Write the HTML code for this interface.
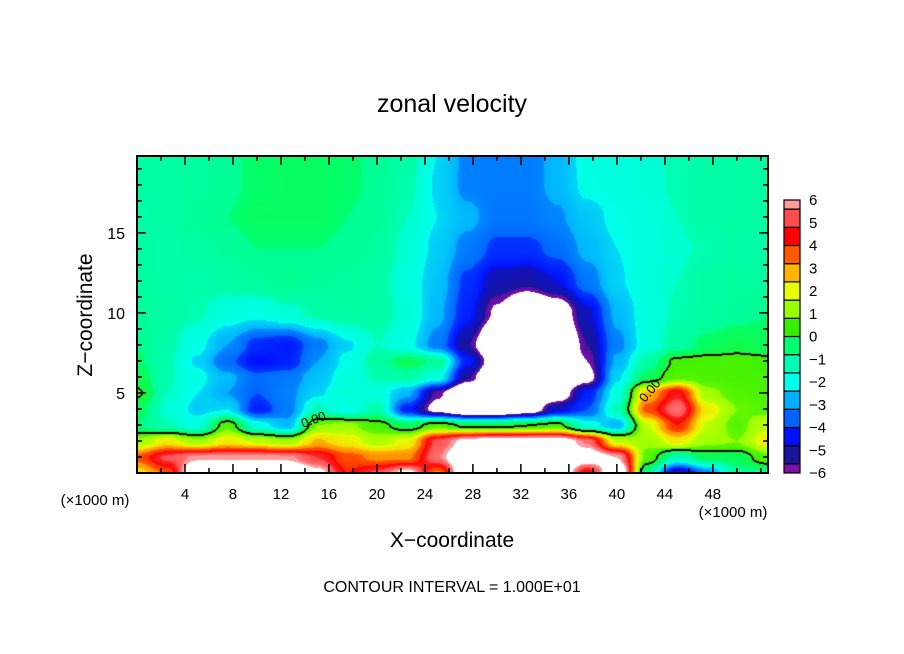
<!DOCTYPE html>
<html><head><meta charset="utf-8"><style>
html,body{margin:0;padding:0;background:#fff;}
#wrap{position:relative;width:904px;height:654px;overflow:hidden;font-family:"Liberation Sans",sans-serif;}
canvas{position:absolute;left:137px;top:156px;}
svg{position:absolute;left:0;top:0;}
</style></head><body>
<div id="wrap">
<canvas id="field" width="631" height="317"></canvas>
<svg id="svg" width="904" height="654"></svg>
</div>
<script>
// ---- data ----
const xCoords = [0,2.5,5,7.5,10,12.5,15,17.5,20,22.5,25,27.5,30,32.5,35,37.5,40,42.5,45,47.5,50,52.5];
const zCoords = [20,18,16,14,12,10,8,7,6,5,4,3,2,1,0];
const row20 = [-1.2,-1.2,-1.1,-0.9,-0.7,-0.6,-0.6,-0.7,-0.9,-1.3,-2.4,-3.4,-3.5,-3.5,-3.0,-2.1,-2.0,-1.8,-1.5,-1.3,-1.2,-1.2];
const row18 = [-1.2,-1.2,-1.1,-0.9,-0.7,-0.6,-0.6,-0.7,-0.9,-1.4,-2.5,-3.4,-3.5,-3.5,-3.0,-2.2,-2.0,-1.8,-1.5,-1.3,-1.2,-1.2];
const row16 = [-1.3,-1.2,-1.0,-0.8,-0.6,-0.6,-0.6,-0.8,-1.0,-1.6,-2.4,-3.0,-3.6,-3.6,-3.3,-2.7,-2.2,-2.0,-1.6,-1.3,-1.2,-1.2];
const row14 = [-1.2,-1.3,-1.2,-1.0,-0.8,-0.8,-0.8,-0.9,-1.1,-1.8,-2.6,-3.5,-4.2,-4.2,-3.8,-3.0,-2.4,-2.0,-1.7,-1.5,-1.3,-1.3];
const row12 = [-1.1,-1.3,-1.4,-1.3,-1.1,-0.8,-1.0,-1.1,-1.3,-2.0,-2.8,-4.2,-5.2,-5.4,-4.8,-3.6,-2.5,-1.9,-1.6,-1.2,-1.1,-1.1];
const row10 = [-1.0,-1.2,-1.5,-2.0,-2.2,-1.8,-1.4,-1.2,-1.3,-1.8,-3.0,-4.5,-6.2,-8,-7,-5.0,-3.0,-2.0,-1.5,-1.2,-1.0,-0.8];
const row8 = [-0.8,-1.4,-2.2,-3.2,-4.3,-4.6,-3.5,-2.5,-1.6,-2.2,-3.5,-5.5,-8,-8,-8,-5.6,-3.4,-2.0,-1.2,-0.6,-0.3,-0.5];
const row7 = [-0.7,-1.5,-2.5,-3.8,-4.8,-4.5,-3.2,-2.2,-1.2,-0.4,-1.0,-4.5,-7,-8,-8,-6,-3.0,-1.2,0.2,0.3,0.3,0.2];
const row6 = [-0.3,-1.5,-2.2,-3.0,-3.8,-3.6,-2.8,-2.0,-1.5,-1.3,-2.0,-5.5,-8,-8,-8,-6.5,-2.5,-0.5,0.5,0.4,0.3,0.3];
const row5 = [0.1,-1.6,-2.4,-3.2,-4.0,-3.4,-2.5,-1.8,-2.0,-3.0,-5.8,-8,-8,-8,-7,-4.5,-2.0,2.5,4.5,1.0,0.5,0.4];
const row4 = [-0.5,-1.8,-2.6,-2.4,-4.5,-3.5,-1.5,-2.2,-1.3,-4.5,-6.5,-8,-8,-7,-5,-4.0,-1.5,3.5,5.5,2.0,0.8,0.5];
const row3 = [-0.8,-1.5,-2.0,0.5,-2.0,-3.0,0.8,1.0,0.3,-0.5,0.5,-0.2,-0.2,0.0,0.3,-2.0,-3.0,1.5,4.0,1.5,0.5,1.5];
const row2 = [1.0,2.0,1.0,2.0,1.5,1.0,2.5,2.0,1.2,1.8,5.0,6.5,7,7,7,5.5,1.5,1.0,2.0,1.0,0.8,2.0];
const row1 = [3.5,5.0,5.8,5.8,5.8,5.8,4.8,3.5,3.0,3.0,5.5,8,8,8,8,7,6.0,0.5,-1.5,-0.5,-0.5,0.5];
const row0 = [2.0,3.5,8,8,8,8,6.5,4.0,5.0,6.5,3.0,8,8,7,8,4.0,8,-1.0,-5.5,-3.5,-1.0,-1.0];
const xTicks = [4,8,12,16,20,24,28,32,36,40,44,48];
const zTicks = [5,10,15];
const cbLevels = [-6,-5.6,-4.8,-4.0,-3.2,-2.4,-1.6,-0.8,0,0.8,1.6,2.4,3.2,4.0,4.8,5.6,6];
const cbColors = ["#7a10a8","#1a1498","#0010ff","#0064ff","#00b0ff","#00ffec","#00ffb4","#00ff70","#34f000","#98ff00","#e8ff00","#ffb400","#ff5a00","#ff0000","#ff4c4c","#ff9a9a"];
const cbLabels = [6,5,4,3,2,1,0,-1,-2,-3,-4,-5,-6];
const rows = [row20,row18,row16,row14,row12,row10,row8,row7,row6,row5,row4,row3,row2,row1,row0];

// ---- axes ----
const X0=137,X1=768,Y0=473,Y1=156,XMAX=52.6,ZMAX=19.8;
const sx = x => X0 + x/XMAX*(X1-X0);
const sz = z => Y0 - z/ZMAX*(Y0-Y1);

function hex(c){return [parseInt(c.substr(1,2),16),parseInt(c.substr(3,2),16),parseInt(c.substr(5,2),16)];}
const stopRGB = cbColors.map(hex);
function colorOf(v){
  if (v>6||v<-6) return [255,255,255];
  let i=0; while(i<cbLevels.length-2 && v>cbLevels[i+1]) i++;
  const t=(v-cbLevels[i])/(cbLevels[i+1]-cbLevels[i]);
  const a=stopRGB[i], b=stopRGB[Math.min(i+1,stopRGB.length-1)];
  const f=0.5*t;
  return [a[0]+(b[0]-a[0])*f,a[1]+(b[1]-a[1])*f,a[2]+(b[2]-a[2])*f];
}
function seg(arr,v){let i=0;while(i<arr.length-2&&v>arr[i+1])i++;return i;}
function valueAt(x,z){
  const i=seg(xCoords,x); const tx=Math.max(0,Math.min(1,(x-xCoords[i])/(xCoords[i+1]-xCoords[i])));
  let j=0; while(j<zCoords.length-2 && z<zCoords[j+1]) j++;
  const tz=Math.max(0,Math.min(1,(zCoords[j]-z)/(zCoords[j]-zCoords[j+1])));
  const sm=t=>t*t*(3-2*t);
  const a=rows[j][i],b=rows[j][i+1],c=rows[j+1][i],d=rows[j+1][i+1];
  const u=sm(tx),w=sm(tz);
  return (a*(1-u)+b*u)*(1-w)+(c*(1-u)+d*u)*w;
}
const cv=document.getElementById('field'),ctx=cv.getContext('2d');
const W=cv.width,H=cv.height,img=ctx.createImageData(W,H);
const vals=new Float32Array(W*H);
for(let py=0;py<H;py++)for(let px=0;px<W;px++){
  const x=px/(X1-X0)*XMAX, z=(Y0-Y1-py)/(Y0-Y1)*ZMAX;
  vals[py*W+px]=valueAt(x,z);
}
for(let py=0;py<H;py++)for(let px=0;px<W;px++){
  const v=vals[py*W+px]; let c=colorOf(v);
  const s=v>=0;
  const r=px<W-1?vals[py*W+px+1]:v, d=py<H-1?vals[(py+1)*W+px]:v;
  const l=px>0?vals[py*W+px-1]:v, u=py>0?vals[(py-1)*W+px]:v;
  if(s!==(r>=0)||s!==(d>=0)||s!==(l>=0)||s!==(u>=0)) c=[0,0,0];
  const k=(py*W+px)*4; img.data[k]=c[0];img.data[k+1]=c[1];img.data[k+2]=c[2];img.data[k+3]=255;
}
ctx.putImageData(img,0,0);

// ---- svg overlay ----
const NS='http://www.w3.org/2000/svg', svg=document.getElementById('svg');
function mk(tag,attrs,text){const e=document.createElementNS(NS,tag);for(const k in attrs)e.setAttribute(k,attrs[k]);if(text!==undefined)e.textContent=text;svg.appendChild(e);return e;}
let e;
e=mk('rect',{x:X0,y:Y1,width:X1-X0,height:Y0-Y1,fill:'none',stroke:'#000','stroke-width':2});


for(let t=2;t<XMAX;t+=2){
  const major=xTicks.includes(t), L=major?9:5;
  e=mk('line',{x1:sx(t),x2:sx(t),y1:Y0,y2:Y0-L,stroke:'#000','stroke-width':1.5});
  
  
  e=mk('line',{x1:sx(t),x2:sx(t),y1:Y1,y2:Y1+L,stroke:'#000','stroke-width':1.5});
  
  
}
xTicks.forEach(t=>{
  e=mk('text',{x:sx(t),y:499,'font-size':15,'text-anchor':'middle'},String(t));
  
  
});
for(let t=1;t<ZMAX;t+=1){
  const major=zTicks.includes(t), L=major?9:5;
  e=mk('line',{x1:X0,x2:X0+L,y1:sz(t),y2:sz(t),stroke:'#000','stroke-width':1.5});
  
  
  e=mk('line',{x1:X1,x2:X1-L,y1:sz(t),y2:sz(t),stroke:'#000','stroke-width':1.5});
  
  
}
zTicks.forEach(t=>{
  e=mk('text',{x:125,y:sz(t)+6,'font-size':16,'text-anchor':'end'},String(t));
  
  
});
const CBX=784,CBW=16,CBT=200,CBB=473;
const cbY=v=>CBB-(v+6)/12*(CBB-CBT);
for(let i=0;i<cbColors.length;i++){
  e=mk('rect',{x:CBX,y:cbY(cbLevels[i+1]),width:CBW,height:cbY(cbLevels[i])-cbY(cbLevels[i+1]),fill:cbColors[i],stroke:'#000','stroke-width':1.2});
  
  
}
cbLabels.forEach(v=>{
  e=mk('text',{x:809,y:cbY(v)+5,'font-size':15},(v<0?'\u2212':'')+Math.abs(v));
  
  
});
e=mk('text',{x:303,y:428,'font-size':13,transform:'rotate(-20 303 428)'},'0.00');


e=mk('text',{x:645,y:403,'font-size':13,transform:'rotate(-50 645 403)'},'0.00');


e=mk('text',{x:452,y:112,'font-size':25,'text-anchor':'middle'},'zonal velocity');


e=mk('text',{x:452,y:547,'font-size':21,'text-anchor':'middle'},'X\u2212coordinate');


e=mk('text',{x:92,y:315,'font-size':21,'text-anchor':'middle',transform:'rotate(-90 92 315)'},'Z\u2212coordinate');


e=mk('text',{x:95,y:505,'font-size':15,'text-anchor':'middle'},'(\u00d71000 m)');


e=mk('text',{x:733,y:517,'font-size':15,'text-anchor':'middle'},'(\u00d71000 m)');


e=mk('text',{x:452,y:592,'font-size':16,'text-anchor':'middle'},'CONTOUR INTERVAL = 1.000E+01');


</script>
</body></html>
